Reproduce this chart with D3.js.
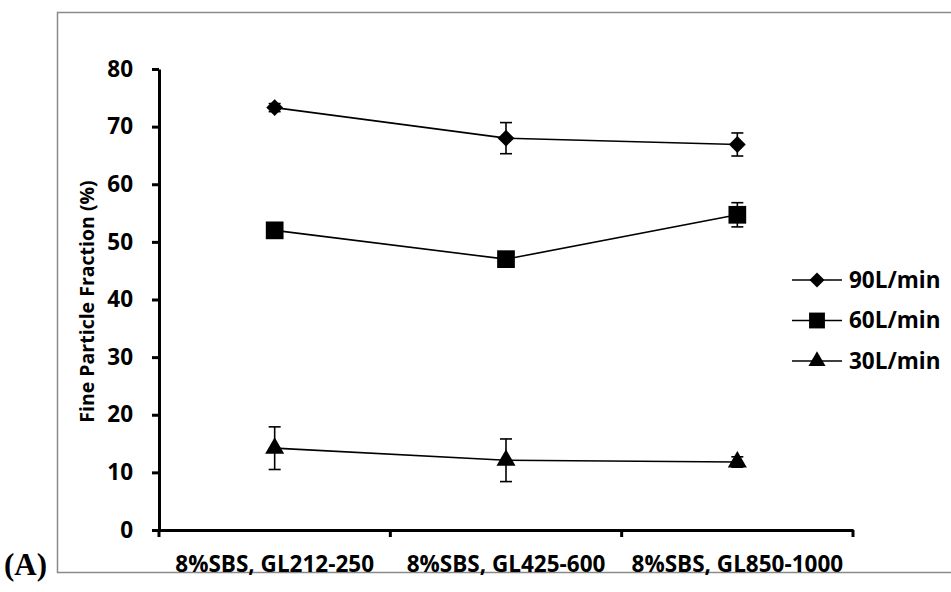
<!DOCTYPE html>
<html>
<head>
<meta charset="utf-8">
<script src="https://cdn.jsdelivr.net/npm/d3@7"></script>
<style>
  body { margin: 0; background: #fff; }
  svg text { font-family: "Open Sans", Lato, sans-serif; font-weight: 700; fill: #000; }
</style>
</head>
<body>
<div id="chart"></div>
<script>
const categories = ['8%SBS, GL212-250', '8%SBS, GL425-600', '8%SBS, GL850-1000'];
const seriesNames = ['90L/min', '60L/min', '30L/min'];
const values90 = [73.3, 68.0, 66.9];
const errors90 = [0.7, 2.7, 2.0];
const values60 = [52.0, 47.0, 54.7];
const errors60 = [0.5, 0.5, 2.1];
const values30 = [14.2, 12.1, 11.8];
const errors30 = [3.7, 3.7, 0.9];
const yTicks = [0, 10, 20, 30, 40, 50, 60, 70, 80];

const W = 951, H = 592;
const margin = { left: 159, right: 98, top: 69, bottom: 62 };
const FONT = '"Open Sans", Lato, sans-serif';

const svg = d3.select('#chart').append('svg')
  .attr('width', W).attr('height', H);

// outer frame
svg.append('rect')
  .attr('x', 57.5).attr('y', 12.5)
  .attr('width', 920).attr('height', 560)
  .attr('fill', 'none')
  .attr('stroke', '#8a8a8a')
  .attr('stroke-width', 1.5);

svg.append('text')
  .attr('x', 4).attr('y', 575)
  .style('font-family', '"Liberation Serif", "Times New Roman", serif')
  .style('font-size', '31px')
  .text('(A)');

const x = d3.scaleBand()
  .domain(categories)
  .range([margin.left, W - margin.right])
  .padding(0);

const y = d3.scaleLinear()
  .domain([0, 80])
  .range([H - margin.bottom, margin.top]);

// ── Axes ────────────────────────────────────────────────
const yAxis = svg.append('g')
  .attr('transform', `translate(${margin.left},0)`)
  .call(d3.axisLeft(y).tickValues(yTicks).tickSize(7).tickSizeOuter(0).tickPadding(19));

const xAxis = svg.append('g')
  .attr('transform', `translate(0,${H - margin.bottom})`)
  .call(d3.axisBottom(x).tickSize(0).tickPadding(26));

// band-edge ticks like Excel
xAxis.selectAll('.edge')
  .data([...categories.map(c => x(c)), x.range()[1]])
  .join('line')
  .attr('class', 'edge')
  .attr('x1', d => d).attr('x2', d => d)
  .attr('y1', 0).attr('y2', 7)
  .attr('stroke', '#000').attr('stroke-width', 3);

[yAxis, xAxis].forEach(a => {
  a.select('.domain').attr('stroke', '#000').attr('stroke-width', 3);
  a.selectAll('.tick line').attr('stroke', '#000').attr('stroke-width', 3);
  a.selectAll('.tick text')
    .style('font-family', FONT)
    .style('font-weight', 700)
    .style('font-size', '22.5px')
    .attr('fill', '#000');
});

svg.append('text')
  .attr('transform', `translate(94,${(y(0) + y(80)) / 2 + 2}) rotate(-90)`)
  .attr('text-anchor', 'middle')
  .style('font-size', '19.5px')
  .text('Fine Particle Fraction (%)');

// ── Series ──────────────────────────────────────────────
const series = [
  { name: seriesNames[0], values: values90, errors: errors90, shape: d3.symbolDiamond2, size: 180 },
  { name: seriesNames[1], values: values60, errors: errors60, shape: d3.symbolSquare2, size: 400 },
  { name: seriesNames[2], values: values30, errors: errors30, shape: d3.symbolTriangle2, size: 260 },
];

const cx = c => x(c) + x.bandwidth() / 2;
const line = d3.line().x(d => cx(d.cat)).y(d => y(d.v));
const capW = 6;

series.forEach(s => {
  const pts = categories.map((c, i) => ({ cat: c, v: s.values[i], e: s.errors[i] }));
  const g = svg.append('g');

  g.append('path')
    .attr('d', line(pts))
    .attr('fill', 'none')
    .attr('stroke', '#000')
    .attr('stroke-width', 1.6);

  const eb = g.selectAll('.eb').data(pts).join('g').attr('class', 'eb');
  eb.append('line')
    .attr('x1', d => cx(d.cat)).attr('x2', d => cx(d.cat))
    .attr('y1', d => y(d.v - d.e)).attr('y2', d => y(d.v + d.e));
  eb.append('line')
    .attr('x1', d => cx(d.cat) - capW).attr('x2', d => cx(d.cat) + capW)
    .attr('y1', d => y(d.v + d.e)).attr('y2', d => y(d.v + d.e));
  eb.append('line')
    .attr('x1', d => cx(d.cat) - capW).attr('x2', d => cx(d.cat) + capW)
    .attr('y1', d => y(d.v - d.e)).attr('y2', d => y(d.v - d.e));
  eb.selectAll('line').attr('stroke', '#000').attr('stroke-width', 1.6);

  g.selectAll('.mk').data(pts).join('path')
    .attr('class', 'mk')
    .attr('transform', d => `translate(${cx(d.cat)},${y(d.v)})`)
    .attr('d', d3.symbol(s.shape, s.size))
    .attr('fill', '#000');
});

// ── Legend ──────────────────────────────────────────────
const legend = svg.append('g').attr('transform', 'translate(792,280)');
const li = legend.selectAll('g').data(series).join('g')
  .attr('transform', (d, i) => `translate(0,${i * 40.5})`);
li.append('line')
  .attr('x1', 0).attr('x2', 50)
  .attr('stroke', '#000').attr('stroke-width', 1.6);
li.append('path')
  .attr('transform', 'translate(25,0)')
  .attr('d', d => d3.symbol(d.shape, d.size * 0.8)())
  .attr('fill', '#000');
li.append('text')
  .attr('x', 57).attr('dy', '0.35em')
  .style('font-size', '22.5px')
  .text(d => d.name);
</script>
</body>
</html>
